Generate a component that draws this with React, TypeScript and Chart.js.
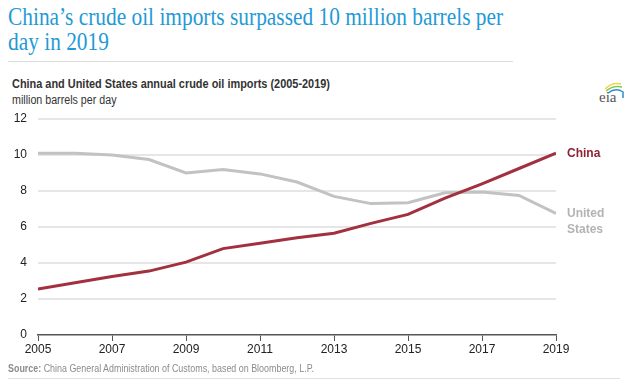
import React, { useEffect, useRef } from "react";
import { Chart, registerables } from "chart.js";

Chart.register(...registerables);

const years = [2005, 2006, 2007, 2008, 2009, 2010, 2011, 2012, 2013, 2014, 2015, 2016, 2017, 2018, 2019];
const chinaImports = [2.55, 2.9, 3.25, 3.55, 4.05, 4.8, 5.1, 5.4, 5.65, 6.2, 6.7, 7.6, 8.4, 9.25, 10.1];
const usImports = [10.1, 10.1, 10.0, 9.75, 9.0, 9.2, 8.95, 8.5, 7.7, 7.3, 7.35, 7.9, 7.95, 7.75, 6.75];
const seriesNames = ["China", "United States"];
const yTicks = [0, 2, 4, 6, 8, 10, 12];

const CHINA_COLOR = "#a3303f";
const US_COLOR = "#c2c2c2";
const FONT = "'Liberation Sans', Arial, sans-serif";

const endLabels = {
  id: "endLabels",
  afterDatasetsDraw(chart: any) {
    const ctx = chart.ctx;
    ctx.save();
    ctx.font = `bold 12px ${FONT}`;
    ctx.textBaseline = "middle";
    ctx.textAlign = "left";
    const x = chart.chartArea.right + 11;
    const m0 = chart.getDatasetMeta(0).data;
    const p0 = m0[m0.length - 1];
    ctx.fillStyle = "#8e2234";
    ctx.fillText("China", x, p0.y);
    const m1 = chart.getDatasetMeta(1).data;
    const p1 = m1[m1.length - 1];
    ctx.fillStyle = "#b3b3b3";
    ctx.fillText("United", x, p1.y);
    ctx.fillText("States", x, p1.y + 16);
    ctx.restore();
  },
};

const squeeze = (k: number): React.CSSProperties => ({ transform: `scaleX(${k})`, transformOrigin: "0 0" });

export default function App() {
  const ref = useRef<HTMLCanvasElement>(null);
  useEffect(() => {
    document.body.style.margin = "0";
    const chart = new Chart(ref.current!, {
      type: "line",
      data: {
        datasets: [
          {
            label: seriesNames[0],
            data: years.map((y, i) => ({ x: y, y: chinaImports[i] })),
            borderColor: CHINA_COLOR,
            borderWidth: 3,
            pointRadius: 0,
            tension: 0,
          },
          {
            label: seriesNames[1],
            data: years.map((y, i) => ({ x: y, y: usImports[i] })),
            borderColor: US_COLOR,
            borderWidth: 3,
            pointRadius: 0,
            tension: 0,
          },
        ],
      },
      options: {
        animation: false,
        responsive: false,
        layout: { padding: { left: 0, top: 119, right: 79, bottom: 0 } },
        plugins: { legend: { display: false }, tooltip: { enabled: false } },
        scales: {
          x: {
            type: "linear",
            min: 2005,
            max: 2019,
            afterFit: (s: any) => { s.height = 49; },
            afterBuildTicks: (s: any) => { s.ticks = years.filter((y) => (y - 2005) % 2 === 0).map((v) => ({ value: v })); },
            ticks: {
              stepSize: 2,
              color: "#222",
              font: { family: FONT, size: 12 },
              padding: 1,
              maxRotation: 0,
              callback: (v: any) => String(v),
            },
            grid: { drawOnChartArea: false, drawTicks: true, tickLength: 6, color: "#555", lineWidth: 1 },
            border: { display: true, color: "#555", width: 1.5 },
          },
          y: {
            min: 0,
            max: 12,
            afterFit: (s: any) => { s.width = 38; },
            afterBuildTicks: (s: any) => { s.ticks = yTicks.map((v) => ({ value: v })); },
            ticks: { color: "#222", font: { family: FONT, size: 12 }, padding: 11 },
            grid: { drawTicks: false, color: (c: any) => (c.tick && c.tick.value === 0 ? "rgba(0,0,0,0)" : "#e6e6e6"), lineWidth: 2 },
            border: { display: false },
          },
        },
      },
      plugins: [endLabels],
    } as any);
    return () => chart.destroy();
  }, []);

  return (
    <div style={{ position: "relative", width: 635, height: 384, overflow: "hidden", background: "#fff" }}>
      <div style={{ position: "absolute", left: 8, top: 4, fontFamily: "'Liberation Serif', 'Times New Roman', serif", fontSize: 25, lineHeight: "25px", color: "#1f9ad6", whiteSpace: "nowrap", ...squeeze(0.855) }}>
        <div>China’s crude oil imports surpassed 10 million barrels per</div>
        <div>day in 2019</div>
      </div>
      <div style={{ position: "absolute", left: 8, top: 61, width: 505, height: 1, background: "#dcdcdc" }} />
      <div style={{ position: "absolute", left: 12, top: 77, fontFamily: FONT, fontSize: 12, fontWeight: "bold", color: "#333", whiteSpace: "nowrap", ...squeeze(0.91) }}>
        China and United States annual crude oil imports (2005-2019)
      </div>
      <div style={{ position: "absolute", left: 12, top: 93, fontFamily: FONT, fontSize: 12, color: "#333", whiteSpace: "nowrap", ...squeeze(0.89) }}>
        million barrels per day
      </div>
      <svg style={{ position: "absolute", left: 596, top: 80 }} width={30} height={26}>
        <path d="M9 9 Q16 2 25 4" stroke="#e8d84a" strokeWidth={1.5} fill="none" />
        <path d="M10 11 Q17 5 26 7" stroke="#8cc63f" strokeWidth={1.5} fill="none" />
        <path d="M12 13 Q20 7 27 12 L27 18" stroke="#2a8fd0" strokeWidth={1.5} fill="none" />
        <text x={3} y={22} fontFamily="'Liberation Serif', serif" fontSize={15} fill="#555">eia</text>
      </svg>
      <canvas ref={ref} width={635} height={384} style={{ position: "absolute", left: 0, top: 0 }} />
      <div style={{ position: "absolute", left: 8, top: 362, fontFamily: FONT, fontSize: 11, color: "#8c8c8c", whiteSpace: "nowrap", ...squeeze(0.81) }}>
        <b>Source:</b> China General Administration of Customs, based on Bloomberg, L.P.
      </div>
      <div style={{ position: "absolute", left: 8, top: 378, width: 612, height: 1, background: "#e0e0e0" }} />
    </div>
  );
}
